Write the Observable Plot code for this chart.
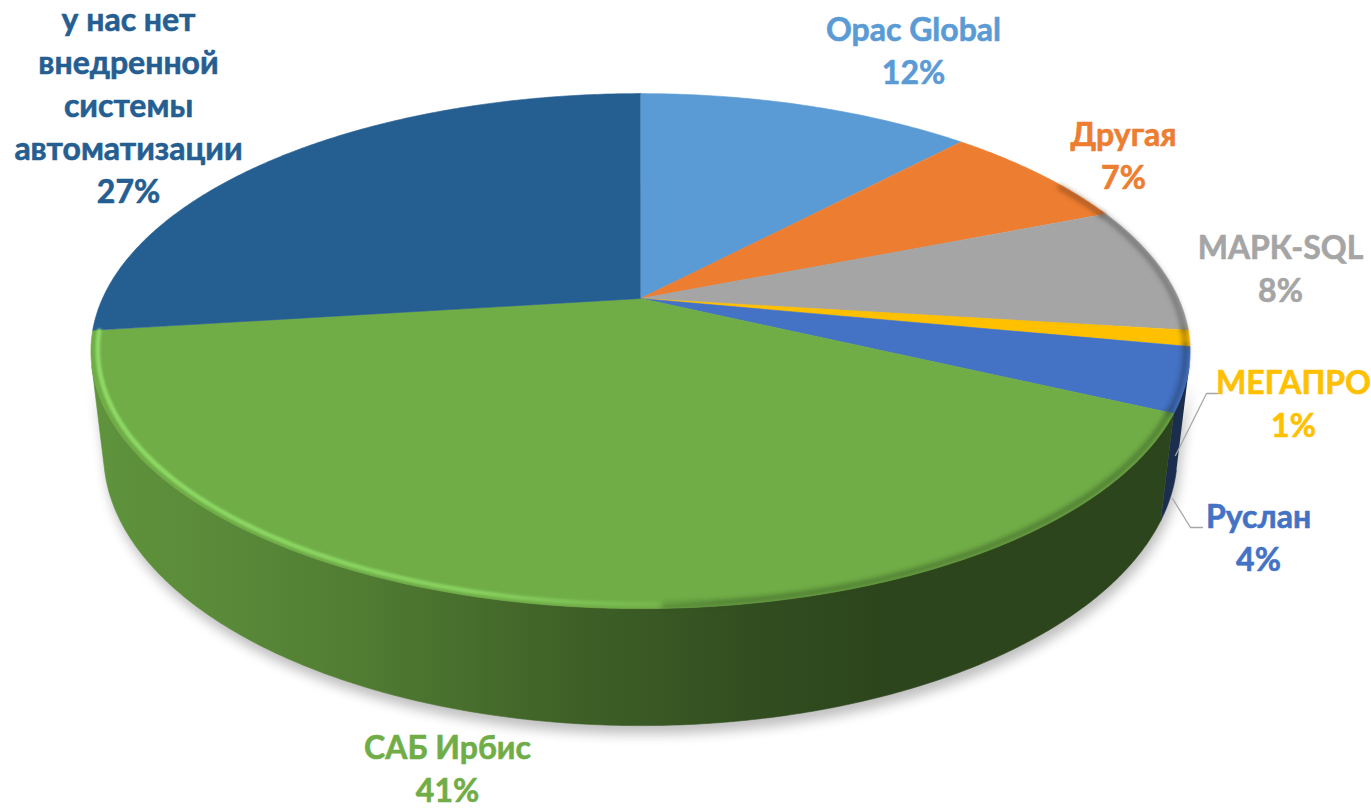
<!DOCTYPE html>
<html><head><meta charset="utf-8">
<script src="https://cdn.jsdelivr.net/npm/d3@7"></script>
<script src="https://cdn.jsdelivr.net/npm/@observablehq/plot@0.6"></script>
<style>html,body{margin:0;padding:0;background:#fff;}</style>
</head><body><div id="chart"></div>
<script>
// ---- data ----
const categories = ["Opac Global", "Другая", "МАРК-SQL", "МЕГАПРО", "Руслан", "САБ Ирбис", "у нас нет внедренной системы автоматизации"];
const labelNames = ["Opac Global", "Другая", "МАРК-SQL", "МЕГАПРО", "Руслан", "САБ Ирбис", "у нас нет\nвнедренной\nсистемы\nавтоматизации"];
const values = [12, 7, 8, 1, 4, 41, 27];
const colors = ["#5B9BD5", "#ED7D31", "#A5A5A5", "#FFC000", "#4472C4", "#70AD47", "#255E91"];

// ---- layout (not data) ----
const W = 1371, H = 810;
const cam = {cx: 640, cy: 298, S: 538, phi: 27.3 * Math.PI / 180, D: 4.35, h: 0.215};
const labelPos = [[913, 48], [1123, 153], [1280, 266], [1293, 401], [1258, 535], [447, 766], [128, 103]];
const leaderPts = {3: [[1175, 455], [1206, 393], [1217, 393]], 4: [[1172, 498], [1190, 527], [1202, 527]]};
const wallShade = [[0, 0.85], [0.12, 0.8], [0.24, 0.72], [0.42, 0.57], [0.6, 0.45], [0.72, 0.40], [1, 0.40]];
const FONT = "Lato, 'Open Sans', sans-serif";

// ---- projection of a perspective-viewed cylinder ----
const k = Math.cos(cam.phi) / cam.D, a = Math.sin(cam.phi) / cam.D;
const T = cam.S * Math.sin(cam.phi), C = cam.S * Math.cos(cam.phi);
function proj(t, Y, r = 1) {
  const X = r * Math.sin(t), Z = -r * Math.cos(t);
  const d = 1 - a * Y - k * Z;
  return {x: cam.cx + cam.S * X / d, y: cam.cy + (T * Z - C * Y) / d};
}
function arc(t0, t1, Y, r = 1) {
  const n = Math.max(2, Math.ceil(Math.abs(t1 - t0) / (Math.PI / 360)));
  return d3.range(n + 1).map(i => proj(t0 + (t1 - t0) * i / n, Y, r));
}
const zVis = 1 / (cam.D * Math.cos(cam.phi));
const tMin = Math.acos(-zVis), tMax = 2 * Math.PI - tMin;

const total = d3.sum(values);
const cum = [0, ...d3.cumsum(values)];
const slices = values.map((v, i) => ({
  i, name: categories[i], color: colors[i],
  t0: 2 * Math.PI * cum[i] / total, t1: 2 * Math.PI * cum[i + 1] / total,
  pct: Math.round(v / total * 100) + "%"
}));

const marks = [];
const post = []; // [markIndex, attrs]
// shadow silhouette
const shadowData = [
  ...arc(0, 2 * Math.PI, -cam.h).map(p => ({...p, z: "b"})),
  ...[...arc(tMin, tMax, 0), ...arc(tMax, tMin, -cam.h)].map(p => ({...p, z: "w"}))
];
post.push([marks.length, {filter: "url(#shblur)", opacity: 0.55, transform: "translate(3,9)"}]);
marks.push(Plot.line(shadowData, {x: "x", y: "y", z: "z", fill: "#8c8c8c", stroke: "none"}));

// side walls
for (const s of slices) {
  const a0 = Math.max(s.t0, tMin), a1 = Math.min(s.t1, tMax);
  if (a1 <= a0) continue;
  const pts = [...arc(a0, a1, 0), ...arc(a1, a0, -cam.h)];
  marks.push(Plot.line(pts, {x: "x", y: "y", fill: `url(#wall${s.i})`, stroke: `url(#wall${s.i})`, strokeWidth: 0.6}));
}
// top faces
for (const s of slices) {
  const pts = [{x: cam.cx, y: cam.cy}, ...arc(s.t0, s.t1, 0)];
  marks.push(Plot.line(pts, {x: "x", y: "y", fill: s.color, stroke: s.color, strokeWidth: 0.6}));
}
// rim shading on the right-front edge
const shadeA = 60 * Math.PI / 180, shadeB = 178 * Math.PI / 180;
for (const s of slices) {
  const a0 = Math.max(s.t0, shadeA), a1 = Math.min(s.t1, shadeB);
  if (a1 <= a0) continue;
  const c = d3.rgb(s.color);
  const dark = d3.rgb(c.r * 0.45, c.g * 0.45, c.b * 0.45).formatHex();
  post.push([marks.length, {filter: "url(#rimblur)"}]);
  marks.push(Plot.line(arc(a0, a1, 0, 0.992), {x: "x", y: "y", stroke: dark, strokeWidth: 5, strokeOpacity: 0.55}));
}
// rim highlight on the left-front edge
const hl = slices[5];
post.push([marks.length, {filter: "url(#hlblur)"}]);
marks.push(Plot.line(arc(172 * Math.PI / 180, hl.t1 - 0.004, 0, 0.988), {x: "x", y: "y", stroke: "url(#rimhl)", strokeWidth: 4.5}));

// leader lines
for (const key of Object.keys(leaderPts)) {
  marks.push(Plot.line(leaderPts[key].map(([x, y]) => ({x, y})), {x: "x", y: "y", stroke: "#A6A6A6", strokeWidth: 1.3}));
}
// labels
for (const s of slices) {
  const [lx, ly] = labelPos[s.i];
  marks.push(Plot.text([{x: lx, y: ly, t: labelNames[s.i] + "\n" + s.pct}], {
    x: "x", y: "y", text: "t", fill: s.color, fontSize: 32, fontWeight: "bold",
    fontFamily: FONT, lineHeight: 1.34, lineAnchor: "middle", textAnchor: "middle",
    stroke: s.color, strokeWidth: 0.6
  }));
}

const chart = Plot.plot({
  width: W, height: H, margin: 0,
  x: {domain: [0, W], range: [0, W], axis: null},
  y: {domain: [0, H], range: [0, H], axis: null},
  style: {background: "#fff"},
  marks
});

// defs: gradients & filters
const svg = d3.select(chart);
const defs = svg.insert("defs", ":first-child");
for (const s of slices) {
  const c = d3.rgb(s.color);
  const g = defs.append("linearGradient").attr("id", `wall${s.i}`).attr("gradientUnits", "userSpaceOnUse")
    .attr("x1", 90).attr("x2", 1190).attr("y1", 0).attr("y2", 0);
  for (const [o, f] of wallShade) g.append("stop").attr("offset", o).attr("stop-color", d3.rgb(c.r * f, c.g * f, c.b * f).formatHex());
}
const rg = defs.append("linearGradient").attr("id", "rimhl").attr("gradientUnits", "userSpaceOnUse")
  .attr("x1", 90).attr("x2", 720).attr("y1", 0).attr("y2", 0);
rg.append("stop").attr("offset", 0).attr("stop-color", "#8fdb66").attr("stop-opacity", 1);
rg.append("stop").attr("offset", 0.6).attr("stop-color", "#8cd763").attr("stop-opacity", 0.85);
rg.append("stop").attr("offset", 1).attr("stop-color", "#8cd763").attr("stop-opacity", 0);
function addBlur(id, sd) {
  defs.append("filter").attr("id", id).attr("filterUnits", "userSpaceOnUse")
    .attr("x", 0).attr("y", 0).attr("width", W).attr("height", H)
    .append("feGaussianBlur").attr("stdDeviation", sd);
}
addBlur("shblur", 6);
addBlur("rimblur", 2.5);
addBlur("hlblur", 1.2);
const groups = Array.from(chart.children).filter(n => n.tagName.toLowerCase() === "g");
for (const [idx, attrs] of post) {
  const g = groups[idx];
  if (!g) continue;
  for (const [kk, vv] of Object.entries(attrs)) g.setAttribute(kk, vv);
}

document.getElementById("chart").appendChild(chart);
</script>
</body></html>
